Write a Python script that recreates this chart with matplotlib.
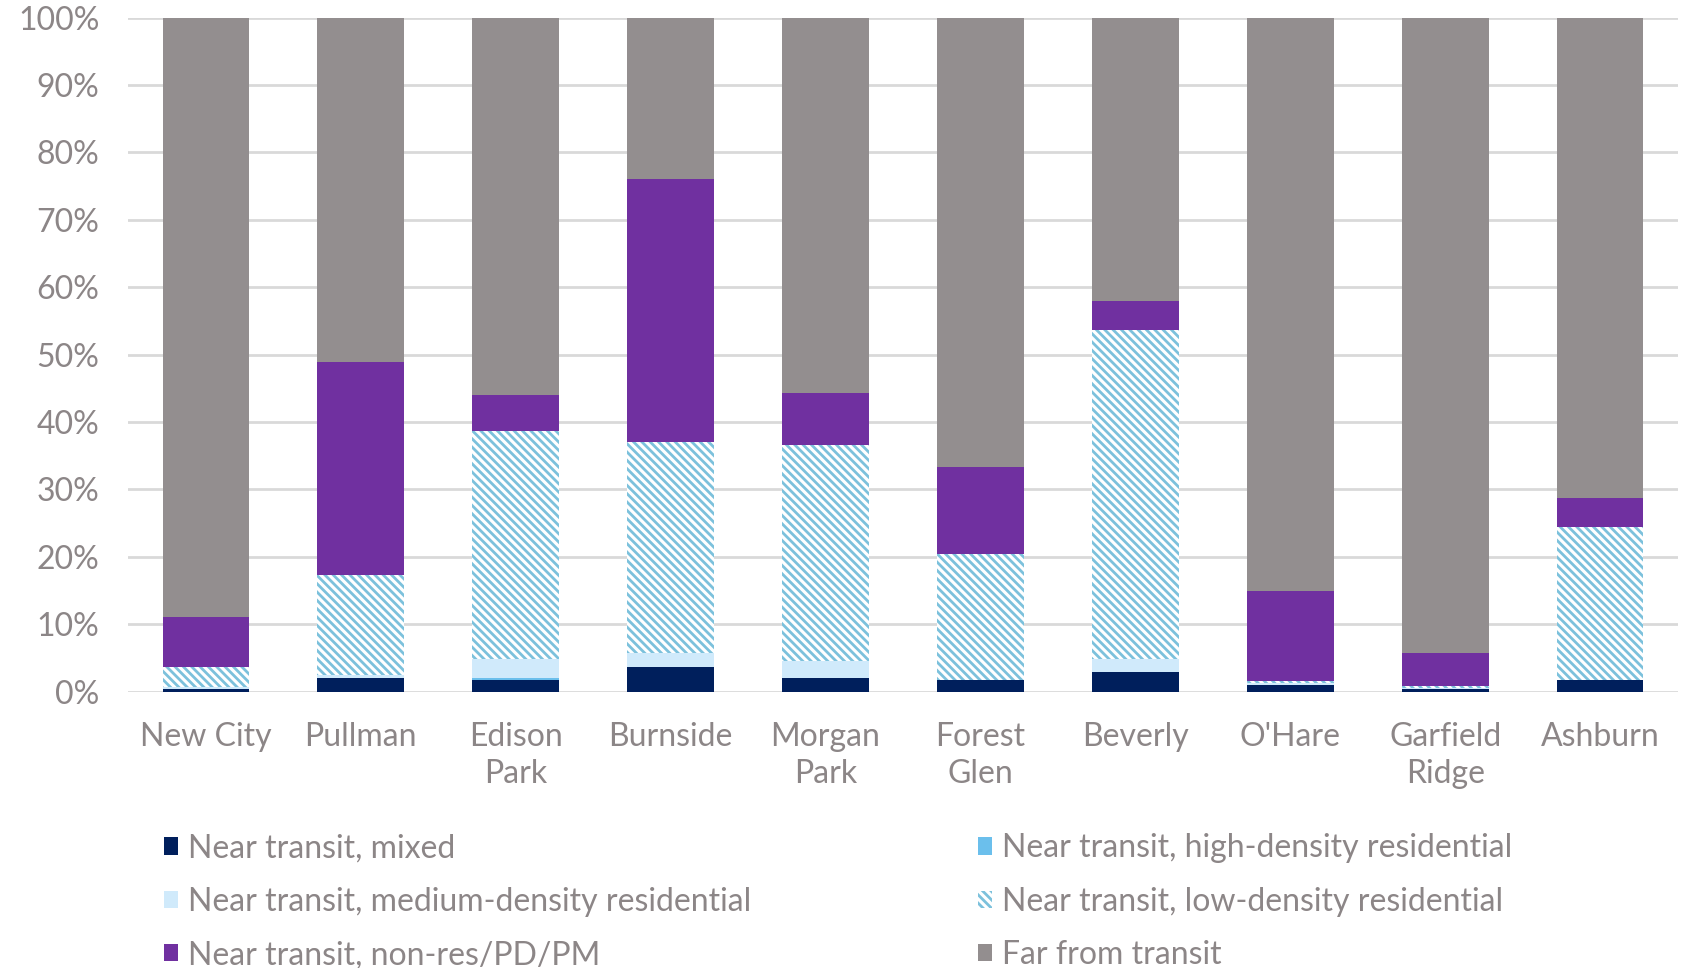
import numpy as np
import matplotlib.pyplot as plt
from matplotlib.patches import Patch
from matplotlib.ticker import PercentFormatter

# Data (percent of area)
areas = ['New City', 'Pullman', 'Edison\nPark', 'Burnside', 'Morgan\nPark',
         'Forest\nGlen', 'Beverly', "O'Hare", 'Garfield\nRidge', 'Ashburn']
mixed = [0.4, 2.1, 1.8, 3.6, 2.1, 1.8, 3.0, 1.0, 0.4, 1.8]
high_res = [0.0, 0.0, 0.3, 0.0, 0.0, 0.0, 0.0, 0.0, 0.0, 0.0]
medium_res = [0.3, 0.4, 2.7, 2.1, 2.4, 0.0, 1.8, 0.3, 0.1, 0.0]
low_res = [2.9, 14.8, 33.9, 31.3, 32.1, 18.7, 48.9, 0.3, 0.3, 22.7]
nonres = [7.5, 31.6, 5.3, 39.1, 7.7, 12.9, 4.2, 13.3, 5.0, 4.3]
far = [100 - sum(v) for v in zip(mixed, high_res, medium_res, low_res, nonres)]

series = [
    ('Near transit, mixed', mixed),
    ('Near transit, high-density residential', high_res),
    ('Near transit, medium-density residential', medium_res),
    ('Near transit, low-density residential', low_res),
    ('Near transit, non-res/PD/PM', nonres),
    ('Far from transit', far),
]
colors = ['#001f5c', '#6bbfec', '#d0eafb', '#7cc1dc', '#7030a0', '#938e8f']

text_col = '#8c8687'
plt.rcParams['font.family'] = ['Lato', 'DejaVu Sans']
plt.rcParams['hatch.linewidth'] = 2.0

fig = plt.figure(figsize=(16.88, 9.68), dpi=100)
ax = fig.add_axes([0.0761, 0.2854, 0.9177, 0.6965])

x = np.arange(len(areas))
bottom = np.zeros(len(areas))
handles = []
for (name, vals), col in zip(series, colors):
    vals = np.array(vals)
    if name.startswith('Near transit, low'):
        ax.bar(x, vals, 0.56, bottom=bottom, facecolor='white', edgecolor=col,
               hatch='\\\\\\\\', linewidth=0, zorder=3)
        handles.append(Patch(facecolor='white', edgecolor=col, hatch='\\\\\\\\',
                             linewidth=0, label=name))
    else:
        ax.bar(x, vals, 0.56, bottom=bottom, color=col, linewidth=0, zorder=3)
        handles.append(Patch(facecolor=col, linewidth=0, label=name))
    bottom += vals

ax.set_xlim(-0.5, len(areas) - 0.5)
ax.set_ylim(0, 100)
ax.set_yticks(np.arange(0, 101, 10))
ax.yaxis.set_major_formatter(PercentFormatter(decimals=0))
ax.set_xticks(x)
ax.set_xticklabels(areas, linespacing=1.3)
ax.tick_params(axis='both', length=0, labelsize=23, labelcolor=text_col)
ax.tick_params(axis='y', pad=21)
ax.tick_params(axis='x', pad=22)
ax.grid(axis='y', color='#d9d9d9', linewidth=2, zorder=0)
for s in ax.spines.values():
    s.set_visible(False)

order = [0, 2, 4, 1, 3, 5]
fig.legend([handles[i] for i in order], [series[i][0] for i in order],
           ncol=2, loc='upper left', bbox_to_anchor=(0.0969, 0.139),
           frameon=False, fontsize=23, labelcolor=text_col,
           handlelength=0.45, handleheight=0.45, handletextpad=0.31,
           columnspacing=7.1, labelspacing=0.73, borderpad=0, borderaxespad=0)

fig.savefig('out.png', dpi=100)
